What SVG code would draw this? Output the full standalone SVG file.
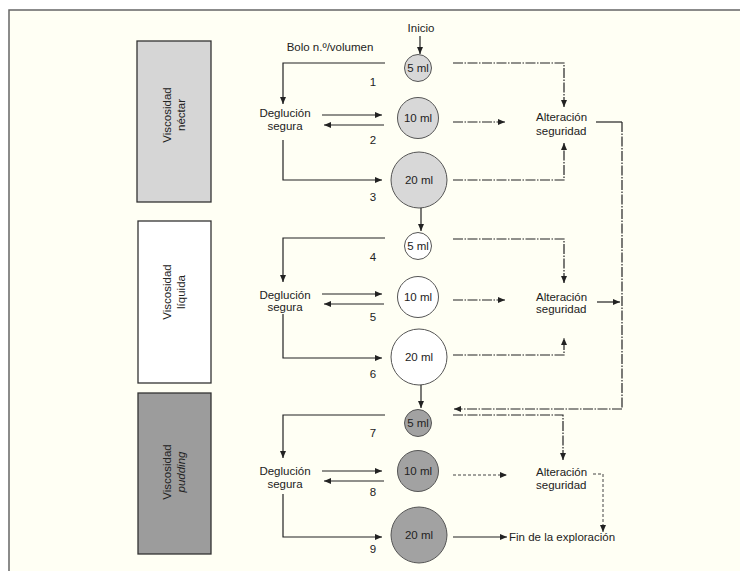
<svg xmlns="http://www.w3.org/2000/svg" width="740" height="571" viewBox="0 0 740 571">
<style>
text{font-family:"Liberation Sans",Arial,sans-serif;font-size:11.5px;fill:#222;}
.c{text-anchor:middle;}
.ln{fill:none;stroke:#222;stroke-width:1.2;}
.dd{fill:none;stroke:#222;stroke-width:1.2;stroke-dasharray:10 1.5 1.5 1.5;}
.dt{fill:none;stroke:#444;stroke-width:1;stroke-dasharray:3 2;}
.box{stroke:#333;stroke-width:1.3;}
.cir{stroke:#555;stroke-width:1;}
</style>
<defs>
<marker id="ah" markerUnits="userSpaceOnUse" markerWidth="7" markerHeight="7" refX="7" refY="3.5" orient="auto">
<path d="M0,0.5 L7,3.5 L0,6.5 z" fill="#222"/>
</marker>
</defs>
<rect x="0" y="0" width="740" height="571" fill="#ffffff"/>
<rect x="9" y="10" width="731" height="561" fill="#fffff4"/>
<path d="M9,571 V10 H740" fill="none" stroke="#666" stroke-width="1.5"/>

<g id="box-nectar">
<rect class="box" x="137" y="41" width="74" height="161" fill="#d6d6d6"/>
<text class="c" transform="translate(174,115) rotate(-90)"><tspan x="0" y="-3">Viscosidad</tspan><tspan x="0" y="11">néctar</tspan></text>
</g>
<g id="box-liquida">
<rect class="box" x="138" y="221" width="73" height="162" fill="#ffffff"/>
<text class="c" transform="translate(174,292) rotate(-90)"><tspan x="0" y="-3">Viscosidad</tspan><tspan x="0" y="11">líquida</tspan></text>
</g>
<g id="box-pudding">
<rect class="box" x="138" y="393" width="73" height="161" fill="#9c9c9c"/>
<text class="c" transform="translate(174,472) rotate(-90)"><tspan x="0" y="-3">Viscosidad</tspan><tspan x="0" y="11" font-style="italic">pudding</tspan></text>
</g>

<g id="labels">
<text class="c" x="421" y="32">Inicio</text>
<text class="c" x="330" y="51">Bolo n.º/volumen</text>
<text class="c" x="373" y="86">1</text>
<text class="c" x="373" y="144">2</text>
<text class="c" x="373" y="201">3</text>
<text class="c" x="373" y="261">4</text>
<text class="c" x="373" y="321">5</text>
<text class="c" x="373" y="378">6</text>
<text class="c" x="373" y="437">7</text>
<text class="c" x="373" y="496">8</text>
<text class="c" x="373" y="553">9</text>
</g>

<g id="s1-5ml"><circle class="cir" cx="418" cy="68" r="13.5" fill="#d8d8d8"/><text class="c" x="418" y="72">5 ml</text></g>
<g id="s1-10ml"><circle class="cir" cx="418" cy="118" r="20.5" fill="#d8d8d8"/><text class="c" x="418" y="122">10 ml</text></g>
<g id="s1-20ml"><circle class="cir" cx="419" cy="180" r="28" fill="#d8d8d8"/><text class="c" x="419" y="184">20 ml</text></g>
<g id="s2-5ml"><circle class="cir" cx="418" cy="246" r="13.5" fill="#ffffff"/><text class="c" x="418" y="250">5 ml</text></g>
<g id="s2-10ml"><circle class="cir" cx="418" cy="297" r="20.5" fill="#ffffff"/><text class="c" x="418" y="301">10 ml</text></g>
<g id="s2-20ml"><circle class="cir" cx="419" cy="357" r="28" fill="#ffffff"/><text class="c" x="419" y="361">20 ml</text></g>
<g id="s3-5ml"><circle class="cir" cx="418" cy="423" r="13.5" fill="#a2a2a2"/><text class="c" x="418" y="427">5 ml</text></g>
<g id="s3-10ml"><circle class="cir" cx="418" cy="471" r="20.5" fill="#a2a2a2"/><text class="c" x="418" y="475">10 ml</text></g>
<g id="s3-20ml"><circle class="cir" cx="419" cy="535" r="28" fill="#a2a2a2"/><text class="c" x="419" y="539">20 ml</text></g>

<g id="s1-deglucion"><text class="c" x="285" y="117">Deglución</text><text class="c" x="285" y="130">segura</text></g>
<g id="s2-deglucion"><text class="c" x="285" y="299">Deglución</text><text class="c" x="285" y="311">segura</text></g>
<g id="s3-deglucion"><text class="c" x="285" y="475">Deglución</text><text class="c" x="285" y="488">segura</text></g>

<g id="s1-alteracion"><text x="536" y="121">Alteración</text><text x="536" y="135">seguridad</text></g>
<g id="s2-alteracion"><text x="536" y="301">Alteración</text><text x="536" y="313">seguridad</text></g>
<g id="s3-alteracion"><text x="536" y="476">Alteración</text><text x="536" y="489">seguridad</text></g>

<g id="fin"><text x="509" y="541">Fin de la exploración</text></g>

<g id="connectors">
<path class="ln" d="M420,36 V54" marker-end="url(#ah)"/>
<path class="ln" d="M421,208 V231" marker-end="url(#ah)"/>
<path class="ln" d="M421,385 V408" marker-end="url(#ah)"/>

<path class="ln" d="M385,63 H283 V104" marker-end="url(#ah)"/>
<path class="ln" d="M322,115 H382" marker-end="url(#ah)"/>
<path class="ln" d="M384,125 H324" marker-end="url(#ah)"/>
<path class="ln" d="M283,140 V180 H382" marker-end="url(#ah)"/>

<path class="ln" d="M385,238 H283 V282" marker-end="url(#ah)"/>
<path class="ln" d="M322,294 H382" marker-end="url(#ah)"/>
<path class="ln" d="M384,304 H324" marker-end="url(#ah)"/>
<path class="ln" d="M283,314 V358 H382" marker-end="url(#ah)"/>

<path class="ln" d="M385,415 H283 V458" marker-end="url(#ah)"/>
<path class="ln" d="M322,471 H382" marker-end="url(#ah)"/>
<path class="ln" d="M384,481 H324" marker-end="url(#ah)"/>
<path class="ln" d="M283,494 V537 H382" marker-end="url(#ah)"/>

<path class="dd" d="M453,63 H564 V107" marker-end="url(#ah)"/>
<path class="dd" d="M453,122 H505" marker-end="url(#ah)"/>
<path class="dd" d="M453,180 H564 V143" marker-end="url(#ah)"/>
<path class="ln" d="M596,122 H622"/>
<path class="dd" d="M622,122 V409"/>
<path class="dd" d="M622,409 H454" marker-end="url(#ah)"/>

<path class="dd" d="M453,239 H564 V283" marker-end="url(#ah)"/>
<path class="dd" d="M453,300 H505" marker-end="url(#ah)"/>
<path class="dd" d="M453,355 H564 V338" marker-end="url(#ah)"/>
<path class="ln" d="M597,302 H620" marker-end="url(#ah)"/>

<path class="dd" d="M453,415 H563 V460" marker-end="url(#ah)"/>
<path class="dt" d="M453,475 H507" marker-end="url(#ah)"/>
<path class="dt" d="M593,474 H603 V532" marker-end="url(#ah)"/>
<path class="ln" d="M453,537 H507" marker-end="url(#ah)"/>
</g>
</svg>
